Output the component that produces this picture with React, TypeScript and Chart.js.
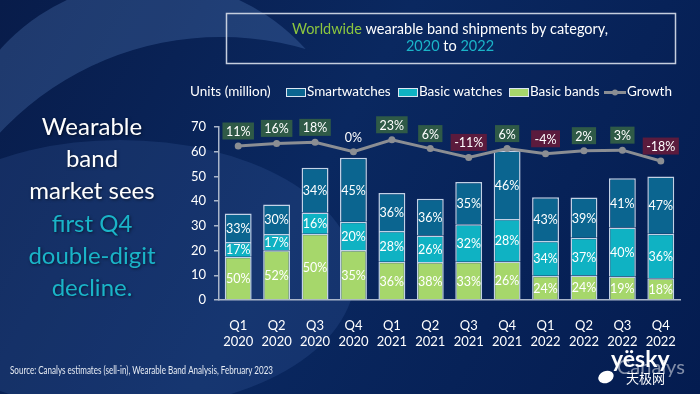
import React, { useEffect, useRef } from 'react';
import { Chart, registerables } from 'chart.js';

Chart.register(...registerables);

const quarters: string[][] = [
  ['Q1', '2020'], ['Q2', '2020'], ['Q3', '2020'], ['Q4', '2020'],
  ['Q1', '2021'], ['Q2', '2021'], ['Q3', '2021'], ['Q4', '2021'],
  ['Q1', '2022'], ['Q2', '2022'], ['Q3', '2022'], ['Q4', '2022'],
];
// Units (million)
const basicBands = [17.5, 20.1, 26.8, 20.2, 15.5, 15.4, 15.5, 15.6, 9.8, 9.9, 9.5, 8.8];
const basicWatches = [6.0, 6.6, 8.6, 11.5, 12.4, 10.7, 15.2, 17.2, 14.1, 15.3, 19.8, 18.0];
const smartwatches = [11.5, 11.9, 18.1, 25.9, 15.4, 14.9, 17.0, 27.7, 17.7, 16.3, 20.0, 23.2];
// Share labels (%)
const bandsShare = [50, 52, 50, 35, 36, 38, 33, 26, 24, 24, 19, 18];
const watchesShare = [17, 17, 16, 20, 28, 26, 32, 28, 34, 37, 40, 36];
const smartShare = [33, 30, 34, 45, 36, 36, 35, 46, 43, 39, 41, 47];
// Year-on-year growth (%)
const growth = [11, 16, 18, 0, 23, 6, -11, 6, -4, 2, 3, -18];

const FONT = 'Lato, "Noto Sans", sans-serif';
const C_SMART = '#0b6590';
const C_WATCH = '#0fb2c3';
const C_BAND = '#a6d76b';
const C_LINE = '#8b8e93';
const C_AXIS = '#aab6ca';
const C_CYAN = '#1ab4c8';
const C_GREEN = '#8cc63f';

const bgPlugin = {
  id: 'bg',
  beforeDraw(chart: any) {
    const ctx = chart.ctx;
    const W = chart.width;
    const H = chart.height;
    ctx.save();
    const g = ctx.createLinearGradient(0, 0, W, H);
    g.addColorStop(0, '#081c4a');
    g.addColorStop(0.45, '#0a2860');
    g.addColorStop(1, '#041c50');
    ctx.fillStyle = g;
    ctx.fillRect(0, 0, W, H);
    // lower disk
    ctx.beginPath();
    ctx.ellipse(120, 275, 235, 135, 0, 0, Math.PI * 2);
    ctx.fillStyle = 'rgba(70,110,180,0.20)';
    ctx.fill();
    // crescent
    ctx.save();
    ctx.beginPath();
    ctx.arc(153, 186, 205, 0, Math.PI * 2);
    ctx.clip();
    ctx.beginPath();
    ctx.rect(0, 0, W, H);
    ctx.arc(221, 340, 303, 0, Math.PI * 2);
    ctx.fillStyle = 'rgba(95,135,200,0.28)';
    ctx.fill('evenodd');
    ctx.restore();
    ctx.restore();
  },
};

const labelPlugin = {
  id: 'labels',
  afterDatasetsDraw(chart: any) {
    const ctx = chart.ctx;
    ctx.save();
    ctx.textAlign = 'center';
    ctx.textBaseline = 'middle';
    const shares = [bandsShare, watchesShare, smartShare];
    ctx.font = `12.5px ${FONT}`;
    ctx.fillStyle = '#ffffff';
    for (let d = 0; d < 3; d++) {
      const meta = chart.getDatasetMeta(d);
      meta.data.forEach((el: any, i: number) => {
        const cy = (el.y + el.base) / 2;
        ctx.fillText(shares[d][i] + '%', el.x, cy + 1);
      });
    }
    const lm = chart.getDatasetMeta(3);
    lm.data.forEach((el: any, i: number) => {
      const v = growth[i];
      const txt = v + '%';
      const ty = el.y - 15;
      const w = ctx.measureText(txt).width + 7;
      if (v !== 0) {
        ctx.fillStyle = v > 0 ? '#2f5a47' : '#5b1b3d';
        ctx.fillRect(el.x - w / 2, ty - 8.5, w, 17);
      }
      ctx.fillStyle = '#ffffff';
      ctx.fillText(txt, el.x, ty + 1);
    });
    ctx.restore();
  },
};

function drawRuns(ctx: any, runs: [string, string][], cx: number, y: number) {
  const total = runs.reduce((s, r) => s + ctx.measureText(r[0]).width, 0);
  let x = cx - total / 2;
  ctx.textAlign = 'left';
  for (const [t, c] of runs) {
    ctx.fillStyle = c;
    ctx.fillText(t, x, y);
    x += ctx.measureText(t).width;
  }
}

const decorPlugin = {
  id: 'decor',
  afterDraw(chart: any) {
    const ctx = chart.ctx;
    ctx.save();
    // Title box
    ctx.strokeStyle = '#c5cede';
    ctx.lineWidth = 1.5;
    ctx.strokeRect(226.5, 13.5, 449, 50);
    ctx.font = `14.5px ${FONT}`;
    ctx.textBaseline = 'middle';
    drawRuns(ctx, [['Worldwide', C_GREEN], [' wearable band shipments by category,', '#ffffff']], 450, 29);
    drawRuns(ctx, [['2020', C_CYAN], [' to ', '#ffffff'], ['2022', C_CYAN]], 450, 46);

    // Legend
    ctx.font = `13.5px ${FONT}`;
    ctx.textAlign = 'left';
    ctx.fillStyle = '#ffffff';
    ctx.fillText('Units (million)', 190, 92);
    const items: [number, string, string][] = [
      [286, C_SMART, 'Smartwatches'],
      [398, C_WATCH, 'Basic watches'],
      [509, C_BAND, 'Basic bands'],
    ];
    for (const [x, c, t] of items) {
      ctx.fillStyle = c;
      ctx.fillRect(x, 88, 20, 9);
      ctx.strokeStyle = '#dce6f2';
      ctx.lineWidth = 1;
      ctx.strokeRect(x + 0.5, 88.5, 19, 8);
      ctx.fillStyle = '#ffffff';
      ctx.fillText(t, x + 21, 92);
    }
    ctx.strokeStyle = C_LINE;
    ctx.lineWidth = 3;
    ctx.beginPath();
    ctx.moveTo(604, 92.5);
    ctx.lineTo(626, 92.5);
    ctx.stroke();
    ctx.fillStyle = C_LINE;
    ctx.beginPath();
    ctx.arc(615, 92.5, 3, 0, Math.PI * 2);
    ctx.fill();
    ctx.fillStyle = '#ffffff';
    ctx.fillText('Growth', 627, 92);

    // Left headline
    ctx.font = `24px ${FONT}`;
    ctx.textAlign = 'center';
    ctx.shadowColor = 'rgba(0,0,0,0.55)';
    ctx.shadowBlur = 3;
    ctx.shadowOffsetX = 1;
    ctx.shadowOffsetY = 1;
    const lines: [string, string][] = [
      ['Wearable', '#ffffff'],
      ['band', '#ffffff'],
      ['market sees', '#ffffff'],
      ['first Q4', C_CYAN],
      ['double-digit', C_CYAN],
      ['decline.', C_CYAN],
    ];
    lines.forEach(([t, c], i) => {
      ctx.fillStyle = c;
      ctx.fillText(t, 92, 127 + i * 32.3);
    });
    ctx.shadowColor = 'transparent';
    ctx.shadowBlur = 0;
    ctx.shadowOffsetX = 0;
    ctx.shadowOffsetY = 0;

    // Source
    ctx.font = `10.5px ${FONT}`;
    ctx.textAlign = 'left';
    ctx.fillStyle = '#e6ebf3';
    ctx.fillText('Source: Canalys estimates (sell-in), Wearable Band Analysis, February 2023', 10, 371, 263);

    // Logos / watermark
    ctx.font = `20px ${FONT}`;
    ctx.fillStyle = 'rgba(255,255,255,0.5)';
    ctx.fillText('Canalys', 617, 368);
    ctx.font = `bold 23px ${FONT}`;
    ctx.fillStyle = '#ffffff';
    ctx.fillText('yësky', 611, 360);
    ctx.font = `13px "Noto Sans CJK SC", sans-serif`;
    ctx.fillText('天极网', 626, 378);
    ctx.beginPath();
    ctx.ellipse(606, 377, 8, 6, -0.4, 0, Math.PI * 2);
    ctx.fill();
    ctx.restore();
  },
};

export default function App() {
  const ref = useRef<HTMLCanvasElement | null>(null);
  useEffect(() => {
    if (!ref.current) return;
    const labels = quarters;
    const barCommon = {
      borderColor: 'rgba(215,228,245,0.9)',
      borderWidth: 1.5,
      barPercentage: 0.7,
      categoryPercentage: 1,
      order: 1,
      yAxisID: 'y',
    };
    const chart = new Chart(ref.current, {
      type: 'bar',
      data: {
        labels,
        datasets: [
          { ...barCommon, label: 'Basic bands', data: basicBands, backgroundColor: C_BAND },
          { ...barCommon, label: 'Basic watches', data: basicWatches, backgroundColor: C_WATCH },
          { ...barCommon, label: 'Smartwatches', data: smartwatches, backgroundColor: C_SMART },
          {
            type: 'line',
            label: 'Growth',
            data: growth,
            yAxisID: 'y1',
            borderColor: C_LINE,
            backgroundColor: C_LINE,
            borderWidth: 3,
            pointRadius: 3.5,
            pointBackgroundColor: C_LINE,
            pointBorderWidth: 0,
            tension: 0,
            order: 0,
          } as any,
        ],
      },
      options: {
        responsive: false,
        animation: false,
        devicePixelRatio: 1,
        layout: { padding: { left: 180, right: 20, top: 127, bottom: 44 } },
        plugins: {
          legend: { display: false },
          tooltip: { enabled: false },
          title: { display: false },
        },
        scales: {
          x: {
            stacked: true,
            grid: { display: false },
            border: { display: true, color: C_AXIS, width: 1.5 },
            ticks: {
              color: '#ffffff',
              font: { family: FONT, size: 13, lineHeight: 1.23 },
              padding: 10,
              maxRotation: 0,
              autoSkip: false,
            },
            afterFit: (s: any) => { s.height = 50; },
          },
          y: {
            stacked: true,
            min: 0,
            max: 70,
            grid: { drawOnChartArea: false, drawTicks: true, tickLength: 5, color: C_AXIS, lineWidth: 1.5 },
            border: { display: true, color: C_AXIS, width: 1.5 },
            ticks: {
              stepSize: 10,
              color: '#ffffff',
              font: { family: FONT, size: 13 },
              padding: 8,
            },
            afterFit: (s: any) => { s.width = 39; },
          },
          y1: {
            display: false,
            stacked: false,
            min: -285.7,
            max: 47.6,
          },
        },
      } as any,
      plugins: [bgPlugin, labelPlugin, decorPlugin],
    });
    return () => chart.destroy();
  }, []);
  return (
    <div style={{ position: 'fixed', left: 0, top: 0, width: 700, height: 394 }}>
      <canvas ref={ref} width={700} height={394} style={{ display: 'block' }} />
    </div>
  );
}
